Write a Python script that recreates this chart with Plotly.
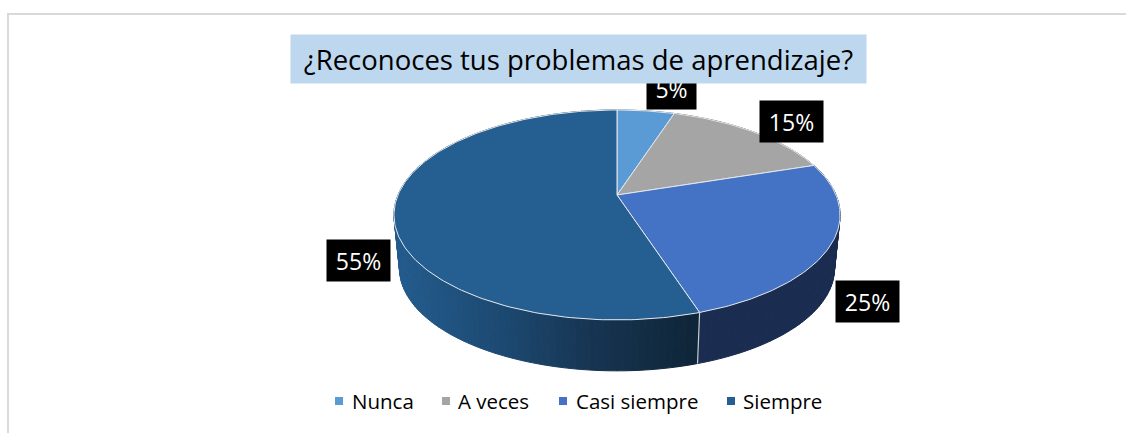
"""Pseudo 3D pie: survey answers drawn on a pixel sized cartesian plot."""

import math

import plotly.graph_objects as go

categories = ["Nunca", "A veces", "Casi siempre", "Siempre"]
shares = [5, 15, 25, 55]
labels = ["5%", "15%", "25%", "55%"]
title_text = "¿Reconoces tus problemas de aprendizaje?"

top_colors = ["#5B9BD5", "#A5A5A5", "#4472C4", "#255E91"]
# wall colours: flat for the first three, the last one runs dark towards the seam
wall_colors = ["#2F5F8F", "#5A5A5A", "#1A2D50", None]
wall_ramp = [(400, (35, 91, 140)), (500, (28, 74, 114)), (600, (22, 51, 80)), (698, (15, 37, 57))]

FONT = "Open Sans"
WIDTH, HEIGHT = 1126, 433
CX, TILT = 617, 0.19


def project(theta, cy, a, b):
    """Clockwise angle from 12 o'clock to a point on a disc seen in perspective."""
    u, v = math.sin(theta), math.cos(theta)
    d = 1 + TILT * v
    return CX + a * u / d, cy - b * v / d


def top_point(theta):
    return project(theta, 195, 219, 101.2)


def base_point(theta):
    return project(theta, 249, 213.5, 98.7)


def ramp_color(x):
    for (x0, c0), (x1, c1) in zip(wall_ramp, wall_ramp[1:]):
        if x <= x1:
            t = max(0, (x - x0) / (x1 - x0))
            r, g, b = [round(p + (q - p) * t) for p, q in zip(c0, c1)]
            return f"rgb({r},{g},{b})"
    return "rgb(15,37,57)"


def poly_trace(points, fill, line_color, line_width=1):
    xs, ys = zip(*points)
    return go.Scatter(
        x=list(xs) + [xs[0]], y=list(ys) + [ys[0]],
        mode="lines", fill="toself", fillcolor=fill,
        line=dict(color=line_color, width=line_width),
        hoverinfo="skip", showlegend=False,
    )


total = sum(shares)
edges = [0]
for s in shares:
    edges.append(edges[-1] + s / total * 2 * math.pi)

fig = go.Figure()

# side walls, back to front
STEP = math.radians(1.5)
for i, color in enumerate(wall_colors):
    start, end = edges[i], edges[i + 1]
    n = max(1, round((end - start) / STEP))
    for j in range(n):
        t0 = start + (end - start) * j / n
        t1 = start + (end - start) * (j + 1) / n
        quad = [top_point(t0), top_point(t1), base_point(t1), base_point(t0)]
        c = color or ramp_color(quad[0][0])
        fig.add_trace(poly_trace(quad, c, c))

# seam on the wall where the last two slices meet
seam_top, seam_base = top_point(edges[3]), base_point(edges[3])
fig.add_trace(go.Scatter(
    x=[seam_top[0], seam_base[0]], y=[seam_top[1], seam_base[1]],
    mode="lines", line=dict(color="#C9CDD2", width=1.2),
    hoverinfo="skip", showlegend=False,
))

# top faces
for i, color in enumerate(top_colors):
    start, end = edges[i], edges[i + 1]
    n = max(2, round((end - start) / math.radians(1)))
    rim = [top_point(start + (end - start) * j / n) for j in range(n + 1)]
    fig.add_trace(poly_trace([(CX, 195)] + rim, color, "#E4E8EE", 1))

# frame lines around the chart area
frame = dict(type="line", line=dict(color="#D9D9D9", width=2), layer="below")
fig.add_shape(x0=7, x1=WIDTH, y0=14, y1=14, **frame)
fig.add_shape(x0=8, x1=8, y0=14, y1=HEIGHT, **frame)

label_spots = [(671.5, 88.5, 49), (791.5, 121, 63), (867.5, 301.5, 63), (358.5, 260.5, 63)]
for text, (x, y, w) in zip(labels, label_spots):
    fig.add_annotation(
        x=x, y=y, text=text, showarrow=False, width=w, height=41, borderpad=0,
        bgcolor="#000000", font=dict(family=FONT, size=23, color="#FFFFFF"),
    )

fig.add_annotation(
    x=578.5, y=59, text=title_text, showarrow=False, width=575, height=48, borderpad=0,
    bgcolor="#BDD7EE", font=dict(family=FONT, size=27.5, color="#000000"),
)

# legend row: swatch left of each name
legend_swatch_x = [339, 446, 563, 731]
legend_text_x = [352, 458, 576, 743]
for name, color, sx, tx in zip(categories, top_colors, legend_swatch_x, legend_text_x):
    fig.add_shape(
        type="rect", x0=sx - 4, x1=sx + 4, y0=397, y1=405,
        fillcolor=color, line=dict(width=0),
    )
    fig.add_annotation(
        x=tx, y=401, text=name, showarrow=False, xanchor="left",
        borderpad=0, borderwidth=0,
        font=dict(family=FONT, size=20.5, color="#000000"),
    )

fig.update_layout(
    width=WIDTH, height=HEIGHT,
    margin=dict(l=0, r=0, t=0, b=0),
    paper_bgcolor="#FFFFFF", plot_bgcolor="#FFFFFF",
    showlegend=False,
    xaxis=dict(range=[0, WIDTH], visible=False, fixedrange=True),
    yaxis=dict(range=[HEIGHT, 0], visible=False, fixedrange=True),
)

# the page's default body margin would push the pixel layout off by 8px
fig.write_html(
    "out.html",
    config=dict(displayModeBar=False),
    post_script="document.body.style.margin = '0';",
)
